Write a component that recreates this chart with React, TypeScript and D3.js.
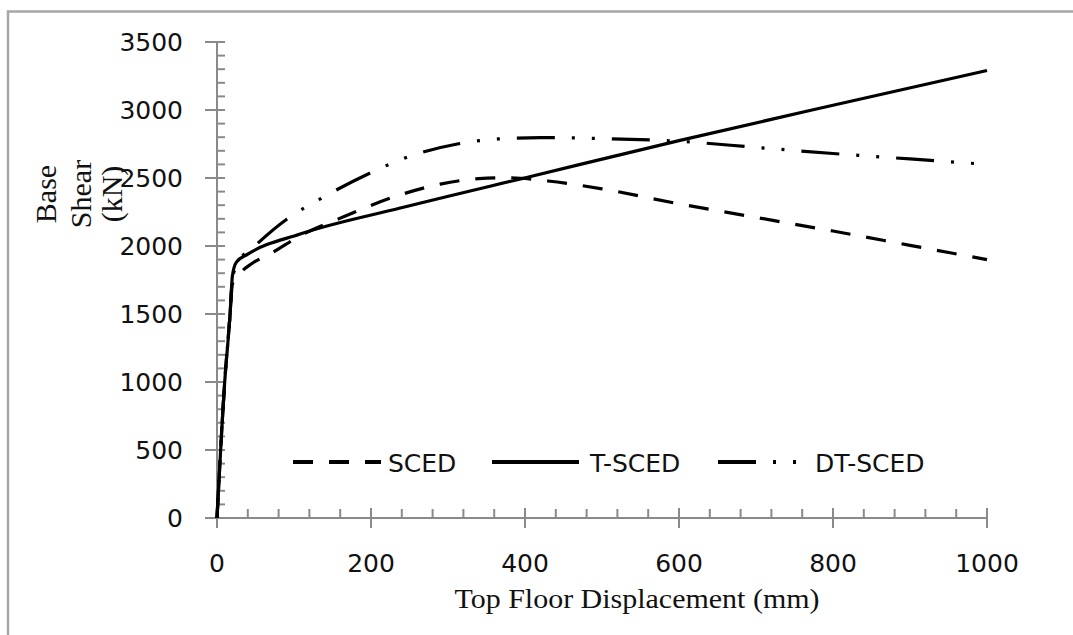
import React from "react";
import * as d3 from "d3";

// Pushover curves: top floor displacement (mm) vs base shear (kN)
const scedDisp = [0, 10, 17, 20, 30, 45, 70, 108, 160, 240, 290, 340, 380, 430, 500, 600, 700, 800, 900, 1000];
const scedShear = [0, 1000, 1500, 1720, 1800, 1870, 1945, 2075, 2205, 2380, 2455, 2495, 2502, 2478, 2420, 2310, 2210, 2110, 2005, 1900];

const tscedDisp = [0, 10, 17, 20, 25, 40, 108, 238, 410, 600, 800, 1000];
const tscedShear = [0, 1000, 1500, 1780, 1880, 1940, 2088, 2279, 2515, 2775, 3035, 3290];

const dtscedDisp = [0, 10, 17, 20, 28, 52, 91, 134, 199, 244, 312, 365, 420, 500, 600, 700, 800, 900, 1000];
const dtscedShear = [0, 1000, 1500, 1760, 1880, 2015, 2199, 2346, 2537, 2647, 2750, 2787, 2797, 2790, 2770, 2725, 2680, 2640, 2600];

const seriesNames = ["SCED", "T-SCED", "DT-SCED"];
const xTicks = [0, 200, 400, 600, 800, 1000];
const yTicks = [0, 500, 1000, 1500, 2000, 2500, 3000, 3500];

const W = 1073;
const H = 635;

const x = d3.scaleLinear().domain([0, 1000]).range([217, 987]);
const y = d3.scaleLinear().domain([0, 3500]).range([518, 42]);

const line = d3
  .line<[number, number]>()
  .x((d) => x(d[0]))
  .y((d) => y(d[1]))
  .curve(d3.curveMonotoneX);

const zip = (a: number[], b: number[]) => a.map((v, i) => [v, b[i]] as [number, number]);

const series = [
  { name: seriesNames[0], pts: zip(scedDisp, scedShear), dash: "20 16" },
  { name: seriesNames[1], pts: zip(tscedDisp, tscedShear), dash: "none" },
  { name: seriesNames[2], pts: zip(dtscedDisp, dtscedShear), dash: "38 17 3 17 3 17" },
];

// legend layout: line sample start/end, text start
const legendItems = [
  { x0: 293, x1: 381, tx: 388 },
  { x0: 492, x1: 579, tx: 590 },
  { x0: 718, x1: 800, tx: 815 },
];

const axisColor = "#8a8a8a";
const numFont = "'DejaVu Sans', sans-serif";
const serifFont = "'Liberation Serif', 'Times New Roman', serif";

export default function App() {
  const minorX = d3.range(0, 1001, 40).filter((v) => v % 200 !== 0);
  const minorY = d3.range(0, 3501, 100).filter((v) => v % 500 !== 0);
  const y0 = y(0);
  const xAxis0 = x(0);

  return (
    <svg
      width={W}
      height={H}
      style={{ position: "absolute", left: 0, top: 0, background: "#fff" }}
    >
      {/* outer frame */}
      <rect x={8} y={11.5} width={2000} height={2000} fill="none" stroke="#a6a6a6" strokeWidth={2.5} />

      {/* y axis */}
      <line x1={xAxis0} x2={xAxis0} y1={y(3500)} y2={y0} stroke={axisColor} strokeWidth={2} />
      {yTicks.map((t) => (
        <g key={"yt" + t}>
          <line x1={xAxis0 - 12} x2={xAxis0 + 8} y1={y(t)} y2={y(t)} stroke={axisColor} strokeWidth={2} />
          <text
            x={183}
            y={y(t)}
            dy="0.36em"
            textAnchor="end"
            fontFamily={numFont}
            fontSize={25}
            fill="#111"
          >
            {t}
          </text>
        </g>
      ))}
      {minorY.map((t) => (
        <line key={"ym" + t} x1={xAxis0} x2={xAxis0 + 8} y1={y(t)} y2={y(t)} stroke={axisColor} strokeWidth={2} />
      ))}

      {/* x axis */}
      <line x1={x(0)} x2={x(1000)} y1={y0} y2={y0} stroke={axisColor} strokeWidth={2} />
      {xTicks.map((t) => (
        <g key={"xt" + t}>
          <line x1={x(t)} x2={x(t)} y1={y0 - 10} y2={y0 + 10} stroke={axisColor} strokeWidth={2} />
          <text x={x(t)} y={572} textAnchor="middle" fontFamily={numFont} fontSize={25} fill="#111">
            {t}
          </text>
        </g>
      ))}
      {minorX.map((t) => (
        <line key={"xm" + t} x1={x(t)} x2={x(t)} y1={y0 - 9} y2={y0} stroke={axisColor} strokeWidth={2} />
      ))}

      {/* axis titles */}
      <text
        x={637}
        y={608}
        textAnchor="middle"
        fontFamily={serifFont}
        fontSize={27}
        textLength={365}
        lengthAdjust="spacingAndGlyphs"
        fill="#111"
      >
        Top Floor Displacement (mm)
      </text>
      {[
        { t: "Base", bx: 56 },
        { t: "Shear", bx: 91 },
        { t: "(kN)", bx: 122 },
      ].map((d) => (
        <text
          key={d.t}
          transform={`translate(${d.bx},194) rotate(-90)`}
          textAnchor="middle"
          fontFamily={serifFont}
          fontSize={30}
          fill="#111"
        >
          {d.t}
        </text>
      ))}

      {/* curves */}
      {series.map((s) => (
        <path
          key={s.name}
          d={line(s.pts) || ""}
          fill="none"
          stroke="#000"
          strokeWidth={3.2}
          strokeDasharray={s.dash}
          strokeLinejoin="round"
        />
      ))}

      {/* legend */}
      {series.map((s, i) => (
        <g key={"lg" + s.name}>
          <line
            x1={legendItems[i].x0}
            x2={legendItems[i].x1}
            y1={462}
            y2={462}
            stroke="#000"
            strokeWidth={4}
            strokeDasharray={s.dash}
          />
          <text x={legendItems[i].tx} y={472} fontFamily={numFont} fontSize={25} fill="#111">
            {s.name}
          </text>
        </g>
      ))}
    </svg>
  );
}
